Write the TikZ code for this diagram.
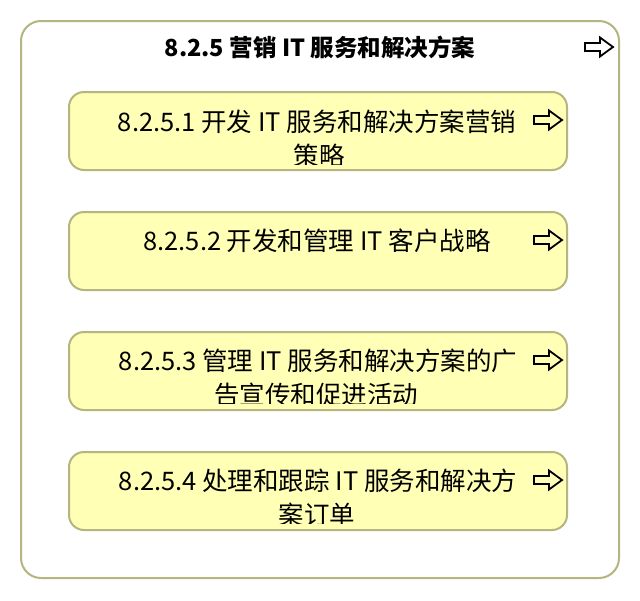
\documentclass[tikz,border=0pt]{standalone}
\usepackage{fontspec}
\setmainfont{Noto Sans CJK SC}
\definecolor{bordercol}{HTML}{B5B57F}
\definecolor{fillcol}{HTML}{FFFFB5}
\tikzset{
  outerbox/.style={draw=bordercol, line width=2pt, rounded corners=20pt, fill=white},
  innerbox/.style={draw=bordercol, line width=2pt, rounded corners=15pt, fill=fillcol},
  boxtext/.style={inner sep=0pt, font=\fontsize{25.5}{30}\selectfont, text=black},
  titletext/.style={inner sep=0pt, font=\fontsize{23.5}{28}\selectfont\bfseries, text=black},
  outarrow/.pic={\draw[line width=1.8pt, line join=miter] (0,-4) -- (15,-4) -- (15,-9.5) -- (28,0) -- (15,9.5) -- (15,4) -- (0,4) -- cycle;}
}
\begin{document}
\begin{tikzpicture}[x=1pt, y=-1pt]
\useasboundingbox (0,0) rectangle (640,600);
\draw[outerbox] (21,21) rectangle (619,578);
\node[titletext] (title) at (320,47) {8.2.5 营销 IT 服务和解决方案};
\pic at (585,47) {outarrow};
% box 1
\draw[innerbox] (69,92) rectangle (567,170);
\begin{scope}
\clip (69,92) rectangle (567,164);
\node[boxtext] (t1a) at (317,122) {8.2.5.1 开发 IT 服务和解决方案营销};
\node[boxtext] (t1b) at (319,156) {策略};
\end{scope}
\pic at (534,120) {outarrow};
% box 2
\draw[innerbox] (69,212) rectangle (567,290);
\node[boxtext] (t2a) at (317,241) {8.2.5.2 开发和管理 IT 客户战略};
\pic at (534,240) {outarrow};
% box 3
\draw[innerbox] (69,332) rectangle (567,410);
\begin{scope}
\clip (69,332) rectangle (567,403);
\node[boxtext] (t3a) at (318,361) {8.2.5.3 管理 IT 服务和解决方案的广};
\node[boxtext] (t3b) at (316,395) {告宣传和促进活动};
\end{scope}
\pic at (534,360) {outarrow};
% box 4
\draw[innerbox] (69,452) rectangle (567,530);
\begin{scope}
\clip (69,452) rectangle (567,523);
\node[boxtext] (t4a) at (318,481) {8.2.5.4 处理和跟踪 IT 服务和解决方};
\node[boxtext] (t4b) at (317,515) {案订单};
\end{scope}
\pic at (534,480) {outarrow};
\end{tikzpicture}
\end{document}
